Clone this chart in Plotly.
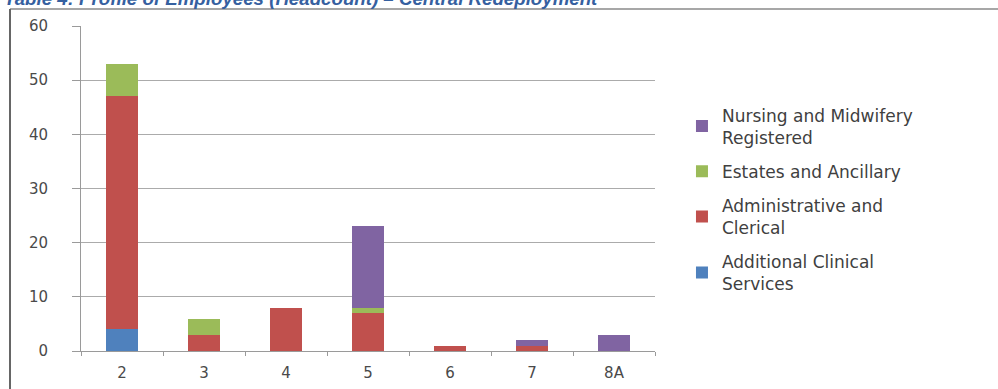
import plotly.graph_objects as go

# Pay bands on the x axis
bands = ["2", "3", "4", "5", "6", "7", "8A"]

# Headcount per staff group and band
additional_clinical = [4, 0, 0, 0, 0, 0, 0]
admin_clerical = [43, 3, 8, 7, 1, 1, 0]
estates_ancillary = [6, 3, 0, 1, 0, 0, 0]
nursing_midwifery = [0, 0, 0, 15, 0, 1, 3]

# (legend label, values, colour, legend rank) - stacked bottom to top
series = [
    ("Additional Clinical<br>Services", additional_clinical, "#4F81BD", 4),
    ("Administrative and<br>Clerical", admin_clerical, "#C0504D", 3),
    ("Estates and Ancillary", estates_ancillary, "#9BBB59", 2),
    ("Nursing and Midwifery<br>Registered", nursing_midwifery, "#8064A2", 1),
]

fig = go.Figure()
for i, (name, vals, color, rank) in enumerate(series):
    fig.add_trace(go.Bar(x=bands, y=vals, name=name, marker_color=color,
                         marker_line_width=0, legendgroup=f"g{i}",
                         legendrank=rank))

tick_font = dict(family="DejaVu Sans", size=15, color="#4a4a4a")

fig.update_layout(
    width=998, height=389,
    margin=dict(l=81, r=343, t=26, b=38, autoexpand=False),
    paper_bgcolor="white", plot_bgcolor="white",
    barmode="stack", bargap=0.6,
    showlegend=True,
    legend=dict(x=1.047, y=0.78, xanchor="left", yanchor="top",
                traceorder="grouped",
                font=dict(family="DejaVu Sans", size=17, color="#404040"),
                bgcolor="rgba(0,0,0,0)", tracegroupgap=9),
    xaxis=dict(showline=True, linecolor="#9a9a9a", linewidth=1,
               ticks="outside", tickson="boundaries", ticklen=4,
               tickcolor="#9a9a9a", tickfont=tick_font, showgrid=False,
               ticklabelstandoff=8, fixedrange=True),
    yaxis=dict(range=[0, 60], dtick=10, showline=True, linecolor="#9a9a9a",
               linewidth=1, ticks="outside", ticklen=8, tickcolor="#9a9a9a",
               gridcolor="#ababab", gridwidth=1, tickfont=tick_font,
               ticklabelstandoff=21, zeroline=False, fixedrange=True),
)

# Caption above the chart frame
fig.add_annotation(
    text="<b><i>Table 4: Profile of Employees (Headcount) \u2013 Central Redeployment</i></b>",
    xref="paper", yref="paper", x=(2 - 81) / 574, y=(351 - 11) / 325,
    xanchor="left", yanchor="bottom", showarrow=False,
    font=dict(family="Liberation Sans", size=18.7, color="#3560A0"),
)

# Chart frame: top and left edges
fig.add_shape(type="line", xref="paper", yref="paper",
              x0=(10 - 81) / 574, x1=(998 - 81) / 574,
              y0=(351 - 9) / 325, y1=(351 - 9) / 325,
              line=dict(color="#8a8a8a", width=1.5))
fig.add_shape(type="line", xref="paper", yref="paper",
              x0=(10 - 81) / 574, x1=(10 - 81) / 574,
              y0=(351 - 9) / 325, y1=(351 - 392) / 325,
              line=dict(color="#666666", width=2))

fig.write_html("out.html")
